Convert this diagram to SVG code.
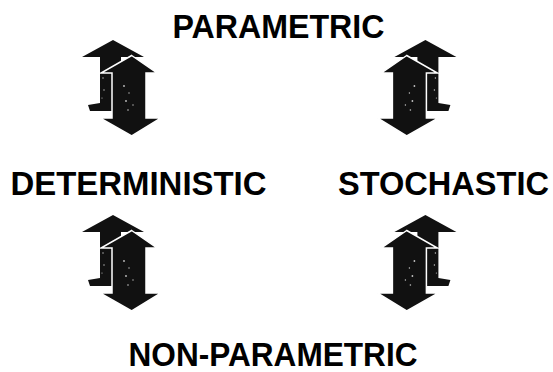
<svg xmlns="http://www.w3.org/2000/svg" width="553" height="372" viewBox="0 0 553 372">
<defs>
<style>
.lbl{font-family:"Liberation Sans",Arial,sans-serif;font-weight:bold;font-size:32.5px;fill:#000}
.back{fill:#111}
.front{fill:#111;stroke:#fff;stroke-width:1.5;stroke-linejoin:miter}
.spk{fill:#fff;opacity:0.75}
</style>
<g id="pair">
<polygon class="back" points="113,40 144,57 121,57 121,111 110,111 90,111 88,105 100,103 100,57 82,57"/>
<polygon class="front" points="131.7,55.5 157,73 146,73 146,118 161,118 131.7,136 100,118 112,118 112,73 101,73"/>
<circle class="spk" cx="124" cy="86" r="0.9"/>
<circle class="spk" cx="129" cy="93" r="0.7"/>
<circle class="spk" cx="126" cy="101" r="0.9"/>
<circle class="spk" cx="133" cy="105" r="0.7"/>
<circle class="spk" cx="128" cy="110" r="0.8"/>
<circle class="spk" cx="103" cy="78" r="0.7"/>
<circle class="spk" cx="104" cy="90" r="0.7"/>
<circle class="spk" cx="102" cy="98" r="0.6"/>
</g>
</defs>
<g id="node-parametric"><text class="lbl" x="278.5" y="37.5" text-anchor="middle" textLength="212" lengthAdjust="spacingAndGlyphs">PARAMETRIC</text></g>
<g id="node-deterministic"><text class="lbl" x="138.5" y="195" text-anchor="middle" textLength="256" lengthAdjust="spacingAndGlyphs">DETERMINISTIC</text></g>
<g id="node-stochastic"><text class="lbl" x="443.5" y="195" text-anchor="middle" textLength="211" lengthAdjust="spacingAndGlyphs">STOCHASTIC</text></g>
<g id="node-nonparametric"><text class="lbl" x="273" y="365.5" text-anchor="middle" textLength="289" lengthAdjust="spacingAndGlyphs">NON-PARAMETRIC</text></g>
<g id="connectors">
<use href="#pair"/>
<use href="#pair" transform="translate(538.4,0) scale(-1,1)"/>
<use href="#pair" transform="translate(0,175)"/>
<use href="#pair" transform="translate(538.4,175) scale(-1,1)"/>
</g>
</svg>
